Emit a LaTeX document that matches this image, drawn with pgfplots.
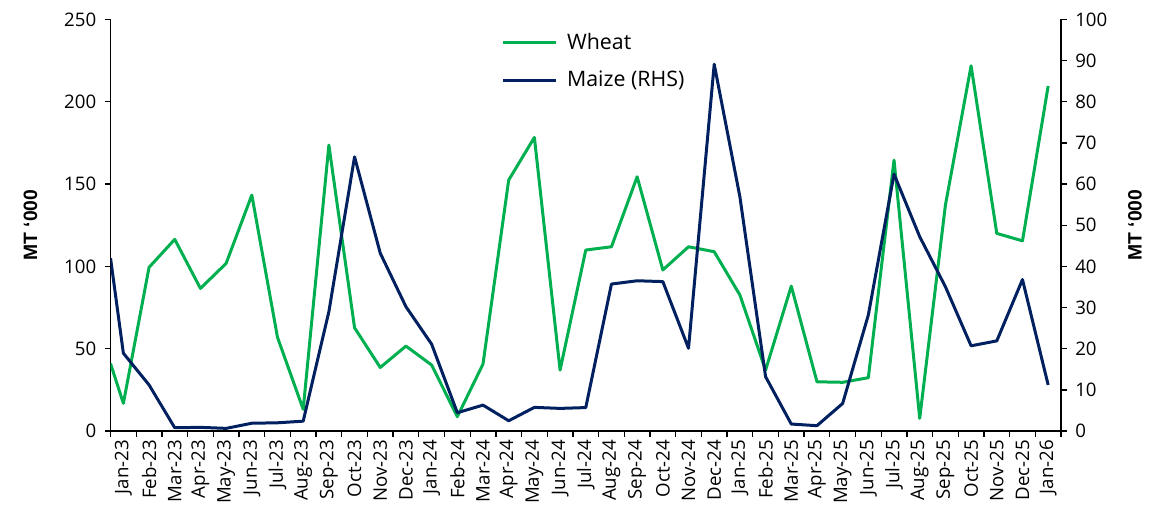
\documentclass[border=0pt]{standalone}
\usepackage{fontspec}
\setmainfont{Open Sans}
\newfontfamily\labelfont{Liberation Sans}
\usepackage{pgfplots}
\usepackage{pgfplotstable}
\pgfplotsset{compat=1.18}
\definecolor{wgreen}{RGB}{0,176,80}
\definecolor{mblue}{RGB}{0,32,96}

\pgfplotstableread{
x y
-0.5 41
0 16.8
1 99.4
2 116.4
3 86.6
4 101.8
5 143.3
6 56.9
7 13.2
8 173.6
9 62.7
10 38.6
11 51.6
12 40.1
13 8.7
14 40.7
15 152.4
16 178.3
17 37.0
18 109.9
19 111.9
20 154.4
21 97.8
22 111.9
23 108.9
24 82.6
25 37.0
26 88.0
27 29.9
28 29.6
29 32.4
30 164.5
31 7.7
32 137.2
33 221.8
34 120.0
35 115.5
36 209.5
}\wheat

\pgfplotstableread{
x y
-0.5 42
0 18.9
1 11.2
2 0.8
3 0.9
4 0.65
5 1.9
6 2.0
7 2.4
8 29.0
9 66.6
10 43.2
11 30.2
12 21.1
13 4.45
14 6.3
15 2.5
16 5.75
17 5.5
18 5.7
19 35.7
20 36.5
21 36.3
22 20.1
23 89.1
24 56.9
25 13.2
26 1.7
27 1.3
28 6.7
29 28.2
30 62.4
31 47.2
32 35.05
33 20.7
34 21.9
35 36.8
36 11.2
}\maize

\pgfplotsset{
  common/.style={
    scale only axis, width=712.9pt, height=308.8pt,
    xmin=-0.5, xmax=36.5, ymin=0,
    axis line style={line width=1pt, black},
    tick align=outside,
    major tick length=4.5pt, minor tick length=4.5pt,
    tick style={black, line width=1pt},
    /pgf/number format/assume math mode=true,
    tick label style={font=\fontsize{14}{16}\selectfont, inner sep=0pt},
  },
}

\begin{document}
\begin{tikzpicture}
\begin{axis}[
  common,
  name=ax1,
  ymax=250,
  axis x line*=bottom, axis y line*=left,
  ytick={0,50,...,250},
  xtick={0,...,36},
  xticklabels={Jan-23,Feb-23,Mar-23,Apr-23,May-23,Jun-23,Jul-23,Aug-23,Sep-23,Oct-23,Nov-23,Dec-23,Jan-24,Feb-24,Mar-24,Apr-24,May-24,Jun-24,Jul-24,Aug-24,Sep-24,Oct-24,Nov-24,Dec-24,Jan-25,Feb-25,Mar-25,Apr-25,May-25,Jun-25,Jul-25,Aug-25,Sep-25,Oct-25,Nov-25,Dec-25,Jan-26},
  minor xtick={-0.5,0.5,...,36.5},
  major x tick style={draw=none},
  x tick label style={rotate=90, anchor=east},
  xticklabel shift=2pt,
  yticklabel shift=6pt,
  every axis y label/.style={at={(axis description cs:-0.0842,0.5)}, rotate=90, anchor=center},
  ylabel={\labelfont\bfseries\fontsize{14.5}{16}\selectfont MT {‘}000},
]
\addplot[wgreen, line width=2.25pt, line join=round] table {\wheat};
\end{axis}
\begin{axis}[
  common,
  ymax=100,
  axis x line=none, axis y line*=right,
  ytick={0,10,...,100},
  yticklabel shift=6pt,
  every axis y label/.style={at={(axis description cs:1.0779,0.5)}, rotate=90, anchor=center},
  ylabel={\labelfont\bfseries\fontsize{14.5}{16}\selectfont MT {‘}000},
  legend style={draw=none, fill=none, at={(0.411,0.898)}, anchor=west,
    font=\fontsize{16}{19}\selectfont, row sep=14.5pt, column sep=7pt, inner sep=0pt,
    nodes={inner sep=0pt}},
  legend cell align=left,
  legend image code/.code={\draw[#1] (0pt,0pt) -- (40pt,0pt);},
]
\addlegendimage{wgreen, line width=2.25pt}
\addlegendentry{Wheat}
\addplot[mblue, line width=2.25pt, line join=round] table {\maize};
\addlegendentry{Maize (RHS)}
\end{axis}
\pgfresetboundingbox
\path[use as bounding box] ([shift={(-82.9pt,-57pt)}]ax1.south west) rectangle ([shift={(68.25pt,14.5pt)}]ax1.north east);
\end{tikzpicture}
\end{document}
